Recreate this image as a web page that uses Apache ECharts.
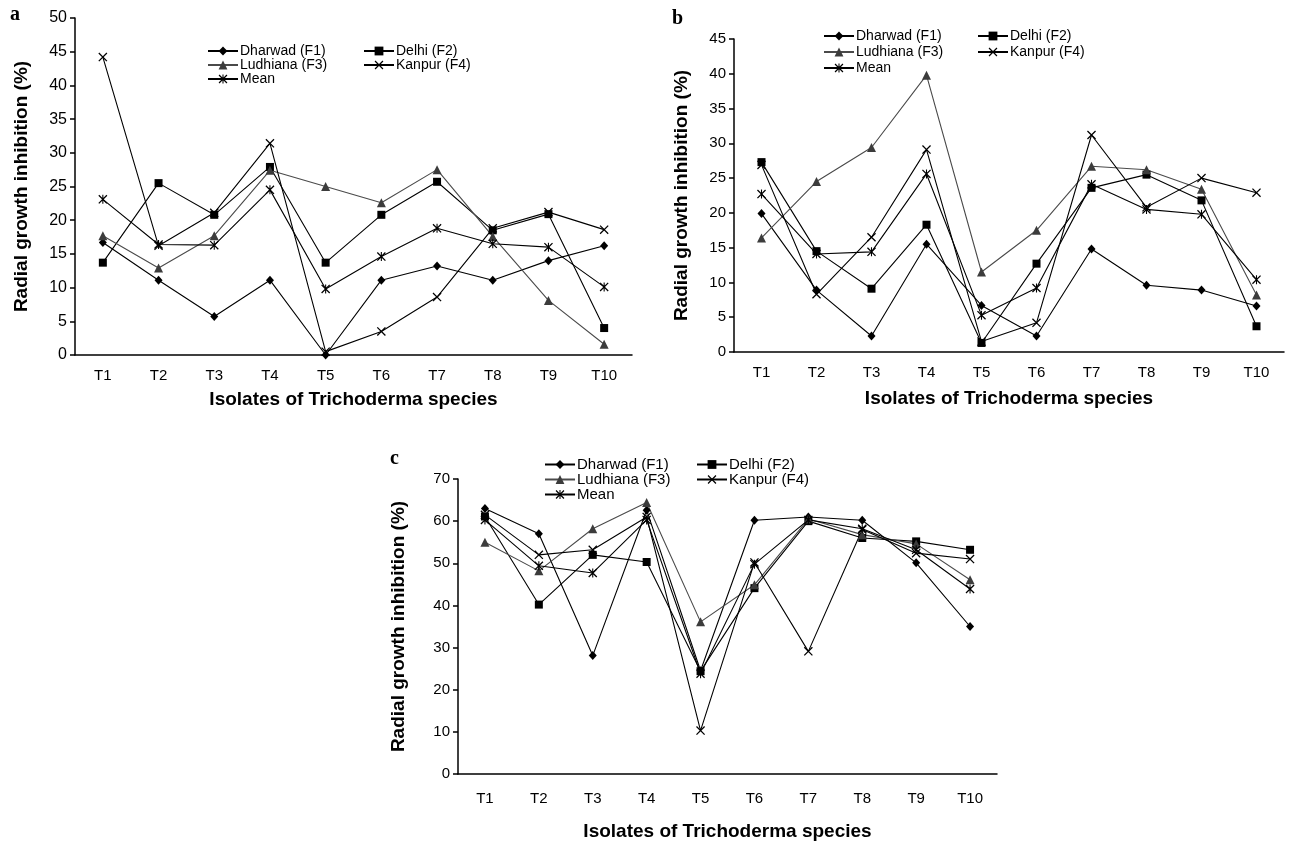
<!DOCTYPE html>
<html>
<head>
<meta charset="utf-8">
<script src="https://cdn.jsdelivr.net/npm/echarts@6/dist/echarts.min.js"></script>
<style>
html,body{margin:0;padding:0;background:#fff;}
#chart{width:1289px;height:846px;}
</style>
</head>
<body>
<div id="chart"></div>
<script>
// ---- data ----
const categories = ['T1','T2','T3','T4','T5','T6','T7','T8','T9','T10'];
const seriesNames = ['Dharwad (F1)','Delhi (F2)','Ludhiana (F3)','Kanpur (F4)','Mean'];

// panel a
const aDharwad  = [16.7, 11.1, 5.7, 11.1, 0.0, 11.1, 13.2, 11.1, 14.0, 16.2];
const aDelhi    = [13.7, 25.5, 20.8, 27.9, 13.7, 20.8, 25.7, 18.5, 20.9, 4.0];
const aLudhiana = [17.7, 12.9, 17.7, 27.4, 25.0, 22.6, 27.5, 17.6, 8.1, 1.6];
const aKanpur   = [44.2, 16.2, 21.1, 31.4, 0.5, 3.5, 8.6, 18.8, 21.2, 18.6];
const aMean     = [23.1, 16.4, 16.3, 24.5, 9.8, 14.6, 18.8, 16.5, 16.0, 10.1];

// panel b
const bDharwad  = [19.9, 8.9, 2.3, 15.5, 6.7, 2.3, 14.8, 9.6, 8.9, 6.6];
const bDelhi    = [27.3, 14.5, 9.1, 18.3, 1.3, 12.7, 23.6, 25.5, 21.8, 3.7];
const bLudhiana = [16.4, 24.5, 29.4, 39.8, 11.5, 17.5, 26.7, 26.2, 23.4, 8.2];
const bKanpur   = [26.9, 8.3, 16.5, 29.1, 1.5, 4.2, 31.2, 20.8, 25.0, 22.9];
const bMean     = [22.7, 14.1, 14.4, 25.6, 5.3, 9.2, 24.1, 20.5, 19.8, 10.4];

// panel c
const cDharwad  = [63.0, 57.0, 28.1, 62.6, 24.5, 60.2, 61.0, 60.2, 50.1, 35.0];
const cDelhi    = [61.1, 40.2, 52.0, 50.3, 24.4, 44.1, 60.0, 56.0, 55.2, 53.2];
const cLudhiana = [55.0, 48.2, 58.2, 64.4, 36.1, 44.9, 60.5, 56.8, 54.6, 46.1];
const cKanpur   = [61.5, 52.0, 53.2, 61.0, 10.3, 50.2, 29.1, 58.0, 52.4, 51.0];
const cMean     = [60.3, 49.4, 47.7, 60.3, 23.8, 49.8, 60.3, 58.2, 53.2, 43.9];

const yMax = [50, 45, 70];
const yInterval = [5, 5, 10];
const yTitle = 'Radial growth inhibition (%)';
const xTitle = 'Isolates of Trichoderma species';
const panelLetters = ['a','b','c'];

// ---- styling ----
const FONT = '"Liberation Sans", Arial, Helvetica, sans-serif';
const XSYM = 'path://M0,1L1,0L10,9L9,10Z M9,0L10,1L1,10L0,9Z';
const STARSYM = 'path://M0,1L1,0L10,9L9,10Z M9,0L10,1L1,10L0,9Z M4.4,0L5.6,0L5.6,10L4.4,10Z';
const styles = [
  {symbol:'diamond', size:[8,9], color:'#000', line:'#000'},
  {symbol:'rect', size:8, color:'#000', line:'#000'},
  {symbol:'triangle', size:9, color:'#3c3c3c', line:'#4a4a4a'},
  {symbol:XSYM, size:9, color:'#000', line:'#000'},
  {symbol:STARSYM, size:9, color:'#000', line:'#000'}
];

const panelData = [
  [aDharwad, aDelhi, aLudhiana, aKanpur, aMean],
  [bDharwad, bDelhi, bLudhiana, bKanpur, bMean],
  [cDharwad, cDelhi, cLudhiana, cKanpur, cMean]
];

const grids = [
  {left:75, top:18, width:557, height:337},
  {left:734, top:39, width:550, height:313},
  {left:458, top:479, width:539, height:295}
];
const yLabelSize = [16, 15, 15];
const xLabelMargin = [13, 13, 17];
const yNameGap = [44, 43, 50];
const xNameGap = [35, 37, 48];

const xAxes = [], yAxes = [], series = [];
for (let p = 0; p < 3; p++) {
  xAxes.push({
    type:'category', gridIndex:p, data:categories, boundaryGap:true,
    axisLine:{lineStyle:{color:'#000', width:1.5}},
    axisTick:{length:5, lineStyle:{color:'#000', width:1.5}},
    axisLabel:{color:'#000', fontFamily:FONT, fontSize:15, margin:xLabelMargin[p]},
    splitLine:{show:false},
    name:xTitle, nameLocation:'middle', nameGap:xNameGap[p],
    nameTextStyle:{color:'#000', fontFamily:FONT, fontSize:19, fontWeight:'bold'}
  });
  yAxes.push({
    type:'value', gridIndex:p, min:0, max:yMax[p], interval:yInterval[p],
    axisLine:{show:true, lineStyle:{color:'#000', width:1.5}},
    axisTick:{show:true, length:5, lineStyle:{color:'#000', width:1.5}},
    axisLabel:{color:'#000', fontFamily:FONT, fontSize:yLabelSize[p], margin:8},
    splitLine:{show:false},
    name:yTitle, nameLocation:'middle', nameGap:yNameGap[p],
    nameTextStyle:{color:'#000', fontFamily:FONT, fontSize:19, fontWeight:'bold'}
  });
  for (let s = 0; s < 5; s++) {
    const st = styles[s];
    series.push({
      type:'line', name:seriesNames[s], xAxisIndex:p, yAxisIndex:p,
      data:panelData[p][s], symbol:st.symbol, symbolSize:st.size,
      showAllSymbol:true, animation:false,
      itemStyle:{color:st.color},
      lineStyle:{color:st.line, width:1.1},
      emphasis:{disabled:true}
    });
  }
}

function legendsFor(left1, left2, top, rowH, fontSize) {
  const common = {
    orient:'vertical', padding:0, itemWidth:30, itemHeight:11, itemGap:0,
    textStyle:{color:'#000', fontFamily:FONT, fontSize:fontSize, lineHeight:rowH, padding:[0,0,0,-3]},
    selectedMode:false
  };
  return [
    Object.assign({}, common, {left:left1, top:top, data:[seriesNames[0], seriesNames[2], seriesNames[4]]}),
    Object.assign({}, common, {left:left2, top:top, data:[seriesNames[1], seriesNames[3]]})
  ];
}

const legends = [].concat(
  legendsFor(207, 363, 44, 12.5, 14),
  legendsFor(823, 977, 28, 16, 14),
  legendsFor(544, 696, 457, 13.5, 15)
);

const option = {
  backgroundColor:'#fff',
  animation:false,
  grid:grids,
  xAxis:xAxes,
  yAxis:yAxes,
  legend:legends,
  series:series,
  graphic:[
    {type:'text', left:10, top:5, style:{text:panelLetters[0], font:'bold 20px "Liberation Serif", "Times New Roman", serif', fill:'#000'}},
    {type:'text', left:672, top:9, style:{text:panelLetters[1], font:'bold 20px "Liberation Serif", "Times New Roman", serif', fill:'#000'}},
    {type:'text', left:390, top:449, style:{text:panelLetters[2], font:'bold 20px "Liberation Serif", "Times New Roman", serif', fill:'#000'}}
  ]
};

const chart = echarts.init(document.getElementById('chart'), null, {renderer:'canvas'});
chart.setOption(option);
</script>
</body>
</html>
